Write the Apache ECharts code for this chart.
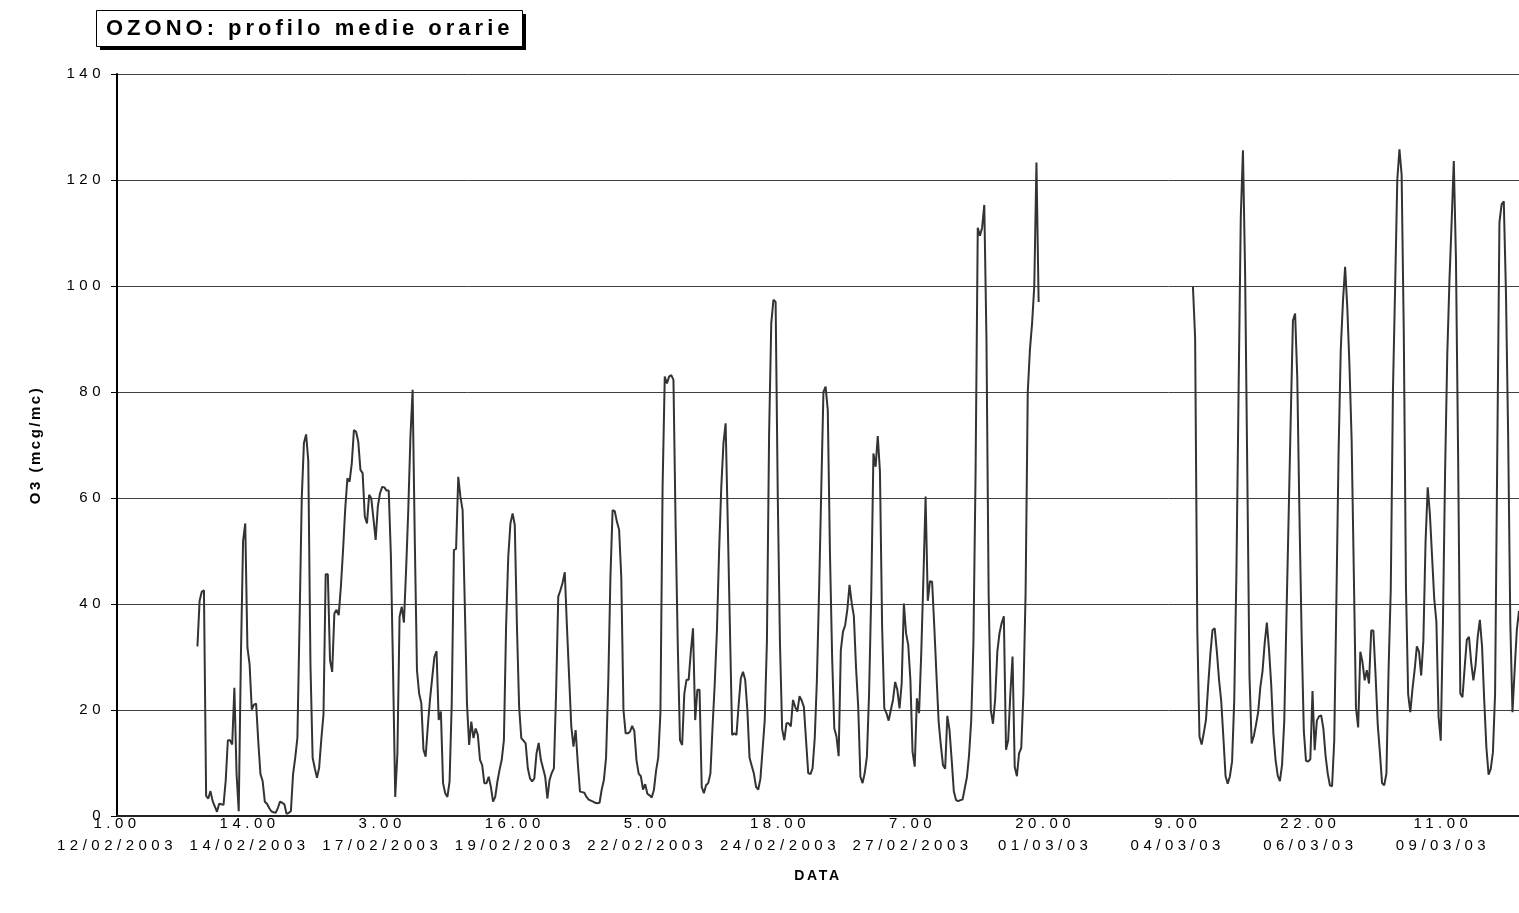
<!DOCTYPE html>
<html>
<head>
<meta charset="utf-8">
<script src="https://cdn.jsdelivr.net/npm/echarts@6/dist/echarts.min.js"></script>
<style>
html,body{margin:0;padding:0;background:#fff;}
#chart{width:1519px;height:913px;}
</style>
</head>
<body>
<div id="chart"></div>
<script>
// ---------------- data ----------------
const titleText = 'OZONO: profilo medie orarie';
const yAxisName = 'O3 (mcg/mc)';
const xAxisName = 'DATA';
const startDate = [2003, 2, 12, 1];   // first category: 12/02/2003 1.00
const hourCount = 646;                 // hourly categories shown
const tickEvery = 61;                  // one label every 61 hours
const yTicks = [0, 20, 40, 60, 80, 100, 120, 140];

// hourly O3 values, first block starts at hour index 37
const block1Start = 37;
const block1 = [
32,40.6,42.3,42.6,3.8,3.3,4.7,2.8,1.8,0.8,2.3,2.2,2.1,6.6,14.3,14.3,13.5,24.2,8,0.9,
30,51.9,55.2,31.8,28.6,20.1,21,21.2,14,7.9,6.6,2.7,2.3,1.5,0.9,0.7,0.6,1.5,2.7,2.5,
2.2,0.4,0.6,0.9,7.9,11,14.8,37,60,70.4,72,67,28.6,11,9,7.2,9.1,14.5,19.2,45.6,
45.6,29.4,27.2,38.2,38.9,37.9,43.3,50.2,58,63.7,63.1,66.5,72.8,72.5,70.6,65.3,64.7,56.5,55.2,60.6,
59.9,56,52.1,58.4,60.9,62.1,62,61.4,61.4,49.2,27.5,3.6,11.8,37.6,39.5,36.5,46.4,57.7,71.6,80.4,
52,27.5,23.1,21.3,12.5,11.2,17,22,26,30,31.1,18.1,19.7,6.2,4.3,3.6,6.5,21.3,50.2,50.4,
64,60.2,57.7,40,21.3,13.4,17.8,14.7,16.5,15.3,10.6,9.6,6.2,6.2,7.4,5.5,2.7,3.6,6.5,8.7,
10.6,14.3,35.7,48.9,55.2,57.1,54.9,35.7,20.6,14.7,14.2,13.7,9,7.1,6.5,7.1,11.8,13.8,10.6,9,
7.4,3.3,6.8,8.1,9,23.1,41.4,42.6,44,46,35.7,26.3,16.9,13.1,16.2,9.9,4.6,4.5,4.4,3.6,
3.1,2.9,2.7,2.5,2.4,2.5,5,6.8,11,25,45,57.7,57.5,55.5,54,45,20,15.6,15.6,15.9,
17,16,10.5,8,7.5,5,6,4.2,3.9,3.5,4.9,8.5,11,19.4,62,82.9,81.6,82.9,83.2,82.3,
54.6,32,14.3,13.4,23.1,25.7,25.7,31,35.4,18.1,23.8,23.8,5.5,4.3,5.8,6.2,8,16.9,25,35,
50,62,70.3,74.1,55,35,15.3,15.6,15.3,21,26,27.2,25.7,20,11,9.5,8,5.5,5,7,
12.5,18.1,33,72,93,97.4,97,60,32.6,16.4,14.3,17.5,17.5,16.9,21.9,20.6,19.7,22.6,21.8,20.6,
14.3,8.1,7.9,9,14.7,25.7,42.6,61.5,80,81,76.6,49.6,30,16.5,15,11.3,31.3,34.8,36,39,
43.6,40.2,37.7,28,20.6,7.4,6.2,8.1,11.2,23.1,42,68.4,65.9,71.7,65,35.7,20.3,19.4,18,20,
21.9,25.3,23.8,20.3,25,40.1,34.5,32.3,25.7,12.1,9.3,22.2,19.4,30.7,45,60.3,40.6,44.3,44.2,35.7,
26.6,17.8,13.4,9.6,8.9,18.9,16.2,10.6,4.6,3,2.8,3,3.1,5.2,7.3,11.5,18.1,32.6,65,111,
109.5,111,115.3,90,42,20,17.4,22,31,34.5,36.4,37.7,12.5,14.3,23.1,30.1,9.3,7.5,11.8,12.8,
23.1,42,80,88,93,100,123.3,97
];

// second block starts at hour index 495
const block2Start = 495;
const block2 = [
99.8,90.2,35,15,13.5,15.7,18.2,24.6,30.5,35.1,35.4,31,25.7,21.7,14.8,7.5,6.1,7.5,10.3,21.9,
46.1,80.4,112.9,125.6,102.3,64.8,26.5,13.7,15.1,17.2,19.6,24.3,27.3,32.6,36.5,31.4,24.8,15.6,10.6,7.6,
6.6,9.7,17.8,37.2,56.2,75.3,93.5,94.8,82.5,56.6,34,16.1,10.4,10.3,10.7,23.6,12.4,18,18.8,19,
16.5,11.4,8,5.8,5.6,14.2,40.9,68.8,88,97,103.6,96,85,71,46,20.4,16.7,31,29,25.6,
27.5,25,35,35,26.7,17.3,12,6.2,5.8,8,27.6,42.7,80,99.6,120,125.8,121,91,43,23,
19.6,24,27.6,32,31,26.5,33,51.6,62,57,49,41,36.6,18.7,14.2,36.4,65,87,101,112,
123.6,105,67.6,23.1,22.4,28,33.3,33.8,29,25.6,28.4,33.8,37,32,21.8,12.9,7.8,8.9,12,23.1,
68.4,112,115.4,116,98.7,72,36.4,19.6,27.6,35.1,38.7
];

// ---------------- letter spacing (canvas) ----------------
const SPACING = { 'b22': 4, 'n15': 4.5, 'b15': 2.5, 'b14': 2.7 };
(function () {
  const P = CanvasRenderingContext2D.prototype;
  function apply(ctx) {
    const f = ctx.font || '';
    const m = f.match(/([\d.]+)px/);
    const key = (/bold|700/.test(f) ? 'b' : 'n') + (m ? Math.round(parseFloat(m[1])) : '');
    const s = SPACING[key] || 0;
    try { ctx.letterSpacing = s + 'px'; } catch (e) {}
  }
  ['fillText', 'strokeText', 'measureText'].forEach(function (n) {
    const o = P[n];
    P[n] = function () { apply(this); return o.apply(this, arguments); };
  });
})();

// ---------------- build ----------------
function pad(n) { return (n < 10 ? '0' : '') + n; }
const categories = [];
const t0 = Date.UTC(startDate[0], startDate[1] - 1, startDate[2], startDate[3]);
for (let i = 0; i < hourCount; i++) {
  const d = new Date(t0 + i * 3600000);
  const mo = d.getUTCMonth() + 1;
  const yr = mo >= 3 ? String(d.getUTCFullYear()).slice(2) : String(d.getUTCFullYear());
  categories.push(d.getUTCHours() + '.00\n' + pad(d.getUTCDate()) + '/' + pad(mo) + '/' + yr);
}
const values = new Array(hourCount).fill(null);
block1.forEach(function (v, k) { values[block1Start + k] = v; });
block2.forEach(function (v, k) { values[block2Start + k] = v; });

const FONT = '"Liberation Sans", Arial, sans-serif';
const chart = echarts.init(document.getElementById('chart'), null, { renderer: 'canvas' });
chart.setOption({
  animation: false,
  backgroundColor: '#fff',
  title: {
    text: titleText,
    left: 106, top: 18, padding: 0, z: 10,
    textStyle: { fontFamily: FONT, fontSize: 22, fontWeight: 'bold', color: '#000', lineHeight: 22 }
  },
  graphic: [
    { type: 'rect', z: 1, shape: { x: 100, y: 14, width: 426, height: 36 }, style: { fill: '#000' } },
    { type: 'rect', z: 2, shape: { x: 96.5, y: 10.5, width: 426, height: 36 }, style: { fill: '#fff', stroke: '#000', lineWidth: 1 } }
  ],
  grid: { left: 117, right: 0, top: 74, bottom: 97, containLabel: false },
  xAxis: {
    type: 'category',
    data: categories,
    boundaryGap: false,
    name: xAxisName,
    nameLocation: 'middle',
    nameGap: 52,
    nameTextStyle: { fontFamily: FONT, fontSize: 14, fontWeight: 'bold', color: '#000' },
    axisLine: { lineStyle: { color: '#222', width: 2 } },
    axisTick: { show: false },
    axisLabel: {
      interval: tickEvery - 1,
      fontFamily: FONT, fontSize: 15, color: '#000', lineHeight: 22, margin: -3
    },
    splitLine: { show: false }
  },
  yAxis: {
    type: 'value',
    min: yTicks[0], max: yTicks[yTicks.length - 1], interval: 20,
    name: yAxisName,
    nameLocation: 'middle',
    nameRotate: 90,
    nameGap: 72,
    nameTextStyle: { fontFamily: FONT, fontSize: 15, fontWeight: 'bold', color: '#000' },
    axisLine: { show: true, lineStyle: { color: '#000', width: 2 } },
    axisTick: { show: true, length: 6, lineStyle: { color: '#000', width: 1 } },
    axisLabel: { fontFamily: FONT, fontSize: 15, color: '#000', margin: 12 },
    splitLine: { show: true, lineStyle: { color: '#404040', width: 1 } }
  },
  series: [{
    type: 'line',
    data: values,
    showSymbol: false,
    connectNulls: false,
    lineStyle: { color: '#333', width: 2 },
    itemStyle: { color: '#333' }
  }]
});
</script>
</body>
</html>
